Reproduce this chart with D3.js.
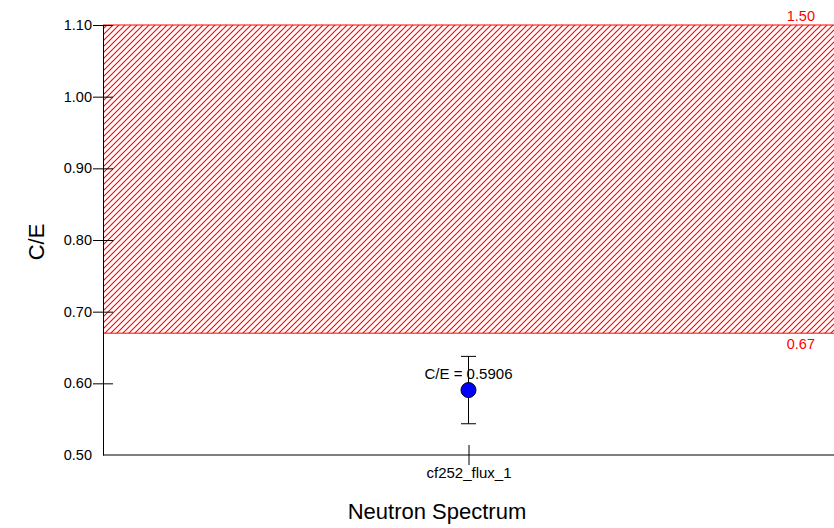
<!DOCTYPE html>
<html>
<head>
<meta charset="utf-8">
<script src="https://cdn.jsdelivr.net/npm/d3@7"></script>
<style>
  body { margin: 0; background: #fff; }
  svg { display: block; font-family: "Liberation Sans", Arial, sans-serif; }
</style>
</head>
<body>
<svg id="chart" width="834" height="528"></svg>
<script>
// Categories and measured C/E values
const categories = ["cf252_flux_1"];
const ceValues = [0.5906];
const ceErrors = [0.047];
const yTicks = [0.50, 0.60, 0.70, 0.80, 0.90, 1.00, 1.10];
const bandLow = 0.67;
const bandHigh = 1.50;

const svg = d3.select("#chart");
const W = 834, H = 528;
const m = { left: 103, right: 0, top: 25, bottom: 73 };
const FONT = "Liberation Sans, Arial, sans-serif";

const x = d3.scalePoint().domain(categories).range([m.left, W - m.right]).padding(0.5);
const y = d3.scaleLinear().domain([0.5, 1.1]).range([H - m.bottom, m.top]);

// Forward-slash hatch pattern for the acceptance band
const s = 6;
const defs = svg.append("defs");
const pat = defs.append("pattern")
  .attr("id", "hatch").attr("patternUnits", "userSpaceOnUse")
  .attr("width", s).attr("height", s);
pat.append("path")
  .attr("d", `M0,${s} L${s},0 M${-s / 2},${s / 2} L${s / 2},${-s / 2} M${s / 2},${s * 1.5} L${s * 1.5},${s / 2}`)
  .attr("stroke", "#ff0000").attr("stroke-width", 1.1).attr("fill", "none");

const yTop = y(Math.min(bandHigh, 1.1));
svg.append("rect")
  .attr("x", m.left).attr("y", yTop)
  .attr("width", W - m.right - m.left).attr("height", y(bandLow) - yTop)
  .attr("fill", "url(#hatch)");
svg.append("line").attr("x1", m.left).attr("x2", W).attr("y1", yTop).attr("y2", yTop)
  .attr("stroke", "#ff0000").attr("stroke-width", 1);
svg.append("line").attr("x1", m.left).attr("x2", W).attr("y1", y(bandLow)).attr("y2", y(bandLow))
  .attr("stroke", "#ff0000").attr("stroke-width", 1);
svg.append("text").attr("x", W - 19).attr("y", yTop - 4).attr("text-anchor", "end")
  .attr("fill", "#ff0000").attr("font-size", 14.5).text(bandHigh.toFixed(2));
svg.append("text").attr("x", W - 19).attr("y", y(bandLow) + 16).attr("text-anchor", "end")
  .attr("fill", "#ff0000").attr("font-size", 14.5).text(bandLow.toFixed(2));

// Y axis
const yAxis = svg.append("g").attr("transform", `translate(${m.left},0)`)
  .call(d3.axisLeft(y).tickValues(yTicks).tickFormat(d3.format(".2f")).tickSize(0).tickPadding(11));
yAxis.select(".domain").attr("stroke", "#000");
yAxis.selectAll("text").attr("font-size", 14.5).attr("fill", "#000").attr("font-family", FONT);
yAxis.selectAll(".tick").filter(d => d > 0.5).append("line")
  .attr("x1", -10).attr("x2", 10).attr("stroke", "#000");

// X axis
const xAxis = svg.append("g").attr("transform", `translate(0,${H - m.bottom})`)
  .call(d3.axisBottom(x).tickSize(0).tickPadding(12));
xAxis.select(".domain").attr("d", `M${m.left},0H${W}`).attr("stroke", "#000");
xAxis.selectAll("text").attr("font-size", 15).attr("fill", "#000").attr("font-family", FONT);
xAxis.selectAll(".tick").append("line").attr("y1", -10).attr("y2", 10).attr("stroke", "#000");

// Axis titles
svg.append("text").attr("x", 437).attr("y", 519).attr("text-anchor", "middle")
  .attr("font-size", 22).text("Neutron Spectrum");
svg.append("text").attr("transform", `translate(44,242) rotate(-90)`)
  .attr("text-anchor", "middle").attr("font-size", 22).text("C/E");

// Data points with error bars
const pts = svg.append("g");
categories.forEach((c, i) => {
  const cx = x(c), v = ceValues[i], e = ceErrors[i];
  pts.append("line").attr("x1", cx).attr("x2", cx).attr("y1", y(v + e)).attr("y2", y(v - e)).attr("stroke", "#000");
  [v + e, v - e].forEach(t => pts.append("line").attr("x1", cx - 7.5).attr("x2", cx + 7.5)
    .attr("y1", y(t)).attr("y2", y(t)).attr("stroke", "#000"));
  pts.append("circle").attr("cx", cx).attr("cy", y(v)).attr("r", 7.5)
    .attr("fill", "#0000ff").attr("stroke", "#000").attr("stroke-width", 1);
  pts.append("text").attr("x", cx).attr("y", y(v) - 11).attr("text-anchor", "middle")
    .attr("font-size", 15).text(`C/E = ${v.toFixed(4)}`);
});
</script>
</body>
</html>
